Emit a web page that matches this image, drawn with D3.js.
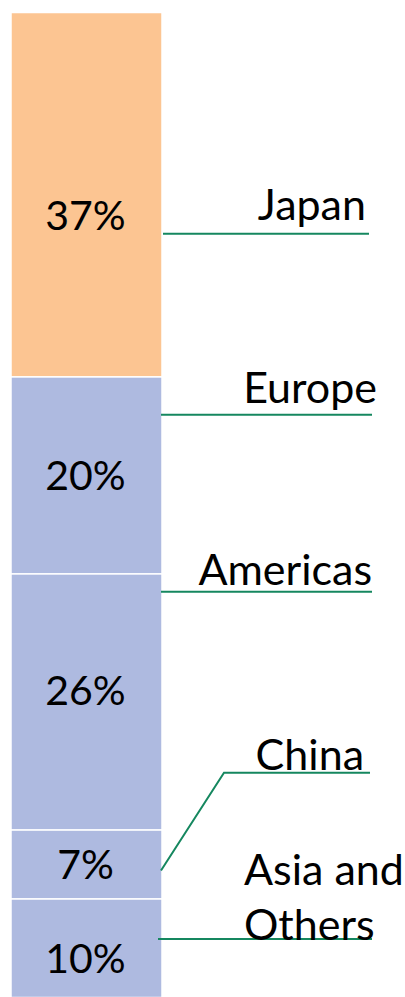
<!DOCTYPE html>
<html>
<head>
<meta charset="utf-8">
<script src="https://cdn.jsdelivr.net/npm/d3@7"></script>
<style>
  html, body { margin: 0; padding: 0; background: #fff; }
  svg { display: block; }
  text { font-family: Lato, "Open Sans", sans-serif; fill: #000; }
</style>
</head>
<body>
<div id="chart"></div>
<script>
// regional share, top to bottom of the stacked bar
let regions = ["Japan", "Europe", "Americas", "China", "Asia and Others"];
let shares = [37, 20, 26, 7, 10];
let colors = ["#FCC592", "#AEBAE0", "#AEBAE0", "#AEBAE0", "#AEBAE0"];

let width = 405, height = 997;

let svg = d3.select("#chart").append("svg")
    .attr("width", width)
    .attr("height", height);

let y = d3.scaleLinear()
    .domain([0, d3.sum(shares)])
    .range([12.5, 997.5]);

let x = d3.scaleBand()
    .domain(["share"])
    .range([11, 162])
    .padding(0);

let cum = d3.cumsum(shares);
let segs = regions.map((r, i) => ({
    name: r,
    value: shares[i],
    y0: cum[i] - shares[i],
    y1: cum[i],
    color: colors[i]
}));

// bar segments
svg.selectAll("rect.seg")
    .data(segs)
    .join("rect")
    .attr("class", "seg")
    .attr("x", x("share"))
    .attr("width", x.bandwidth())
    .attr("y", d => y(d.y0))
    .attr("height", d => y(d.y1) - y(d.y0))
    .attr("fill", d => d.color)
    .attr("stroke", "#ffffff")
    .attr("stroke-width", 1.5);

// small nudges of the percent labels off the segment middle (px)
let pctShift = [21, 0, -12, 0, 10];

svg.selectAll("text.pct")
    .data(segs)
    .join("text")
    .attr("class", "pct")
    .attr("x", x("share") + x.bandwidth() / 2 - 1)
    .attr("y", (d, i) => (y(d.y0) + y(d.y1)) / 2 + pctShift[i])
    .attr("dy", "0.36em")
    .attr("text-anchor", "middle")
    .style("font-size", "41px")
    .text(d => d.value + "%");

// callout layout (annotation placement, px)
let callouts = [
    {lineY: 233.7, x1: 163, x2: 369, labelY: 220, labelX: 366, anchor: "end"},
    {lineY: 414.7, x1: 161, x2: 372, labelY: 403, labelX: 377, anchor: "end"},
    {lineY: 591.7, x1: 161, x2: 372, labelY: 585, labelX: 372, anchor: "end"},
    {lineY: 772.7, x1: 224, x2: 370, labelY: 770, labelX: 364, anchor: "end", elbow: true},
    {lineY: 939, x1: 158, x2: 372, labelY: 885, labelX: 244, anchor: "start"}
];

let line = d3.line().x(d => d[0]).y(d => d[1]);

svg.selectAll("path.leader")
    .data(segs)
    .join("path")
    .attr("class", "leader")
    .attr("fill", "none")
    .attr("stroke", "#15875F")
    .attr("stroke-width", 2)
    .attr("d", (d, i) => {
        let c = callouts[i];
        if (c.elbow) {
            let my = (y(d.y0) + y(d.y1)) / 2 + 6;
            return line([[x("share") + x.bandwidth() - 1, my], [c.x1, c.lineY], [c.x2, c.lineY]]);
        }
        return line([[c.x1, c.lineY], [c.x2, c.lineY]]);
    });

// region labels
svg.selectAll("text.region")
    .data(segs)
    .join("text")
    .attr("class", "region")
    .attr("x", (d, i) => callouts[i].labelX)
    .attr("y", (d, i) => callouts[i].labelY)
    .attr("text-anchor", (d, i) => callouts[i].anchor)
    .style("font-size", "43px")
    .each(function(d, i) {
        let words = d.name === "Asia and Others" ? ["Asia and", "Others"] : [d.name];
        d3.select(this).selectAll("tspan")
            .data(words)
            .join("tspan")
            .attr("x", callouts[i].labelX)
            .attr("dy", (w, j) => j === 0 ? 0 : 55)
            .text(w => w);
    });
</script>
</body>
</html>
